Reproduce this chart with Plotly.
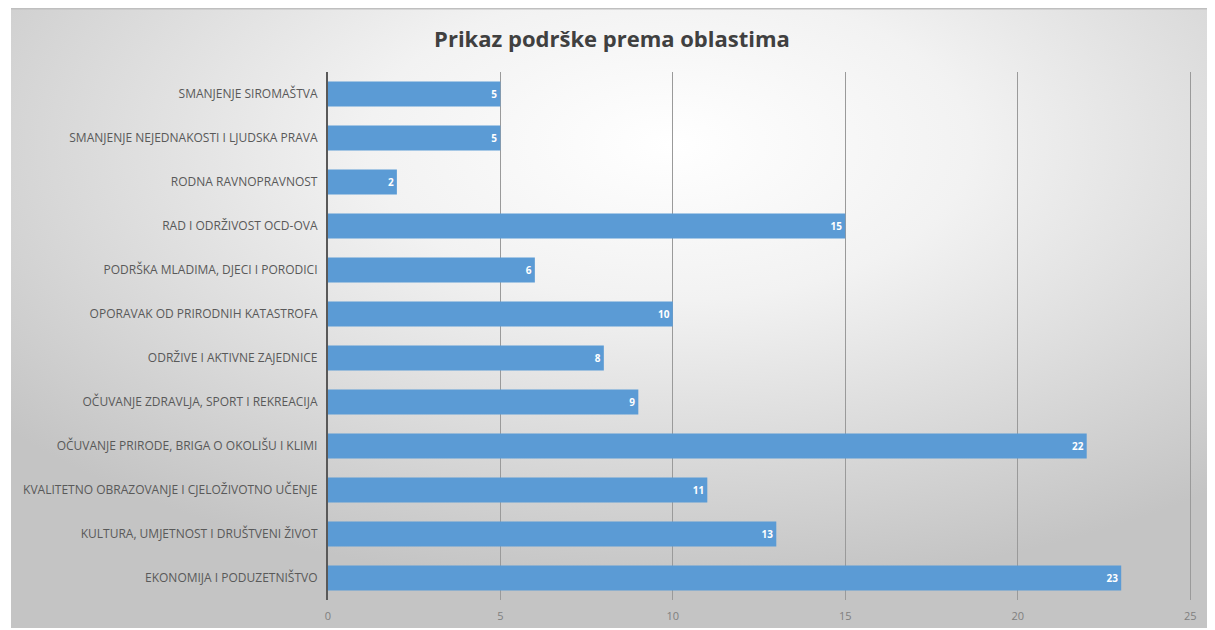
import base64
import plotly.graph_objects as go

categories = [
    "SMANJENJE SIROMAŠTVA",
    "SMANJENJE NEJEDNAKOSTI I LJUDSKA PRAVA",
    "RODNA RAVNOPRAVNOST",
    "RAD I ODRŽIVOST OCD-OVA",
    "PODRŠKA MLADIMA, DJECI I PORODICI",
    "OPORAVAK OD PRIRODNIH KATASTROFA",
    "ODRŽIVE I AKTIVNE ZAJEDNICE",
    "OČUVANJE ZDRAVLJA, SPORT I REKREACIJA",
    "OČUVANJE PRIRODE, BRIGA O OKOLIŠU I KLIMI",
    "KVALITETNO OBRAZOVANJE I CJELOŽIVOTNO UČENJE",
    "KULTURA, UMJETNOST I DRUŠTVENI ŽIVOT",
    "EKONOMIJA I PODUZETNIŠTVO",
]
values = [5, 5, 2, 15, 6, 10, 8, 9, 22, 11, 13, 23]
x_ticks = [0, 5, 10, 15, 20, 25]
title_text = "Prikaz podrške prema oblastima"

W, H = 1215, 630
OX, OY = 8, 8  # page offset of the figure in the screenshot

svg = (
    '<svg xmlns="http://www.w3.org/2000/svg" width="1205" height="620" preserveAspectRatio="none">'
    '<defs><radialGradient id="g" cx="0.55" cy="0.22" r="0.72">'
    '<stop offset="0" stop-color="#ffffff"/>'
    '<stop offset="0.35" stop-color="#f2f2f2"/>'
    '<stop offset="1" stop-color="#c4c4c4"/>'
    '</radialGradient></defs>'
    '<rect x="0" y="0" width="1205" height="620" fill="url(#g)"/>'
    '<rect x="0" y="0" width="1205" height="1.5" fill="#bfbfbf"/>'
    '</svg>'
)
bg_uri = "data:image/svg+xml;base64," + base64.b64encode(svg.encode("utf-8")).decode("ascii")


def px_x(p):
    return (p - OX) / W


def px_y(p):
    return 1 - (p - OY) / H


fig = go.Figure()
fig.add_trace(go.Bar(
    y=categories,
    x=values,
    orientation="h",
    marker=dict(color="#5b9bd5", line=dict(width=0)),
    text=[str(v) for v in values],
    textposition="inside",
    insidetextanchor="end",
    textfont=dict(family="Open Sans", size=10, color="#ffffff", weight="bold"),
    hoverinfo="x+y",
))

x_max = 25.05
fig.update_layout(
    width=W,
    height=H,
    margin=dict(l=0, r=0, t=0, b=0),
    paper_bgcolor="#ffffff",
    plot_bgcolor="rgba(0,0,0,0)",
    bargap=0.43,
    showlegend=False,
    images=[dict(
        source=bg_uri,
        xref="paper", yref="paper",
        x=0, y=1,
        sizex=1205 / W, sizey=620 / H,
        xanchor="left", yanchor="top",
        sizing="stretch",
        layer="below",
    )],
    title=dict(
        text="<b>" + title_text + "</b>",
        x=px_x(612), xanchor="center",
        y=px_y(39), yanchor="middle",
        font=dict(family="Open Sans", size=22, color="#404040"),
    ),
    xaxis=dict(
        domain=[px_x(327), px_x(327 + (1195 - 327) * x_max / 25)],
        range=[0, x_max],
        tickvals=x_ticks,
        showgrid=True,
        gridcolor="#9a9a9a",
        gridwidth=1,
        zeroline=False,
        showline=False,
        ticks="",
        ticklabelstandoff=8,
        tickfont=dict(family="Open Sans", size=11, color="#7f7f7f"),
        fixedrange=True,
    ),
    yaxis=dict(
        domain=[px_y(600), px_y(72)],
        autorange="reversed",
        showline=True,
        linecolor="#595959",
        linewidth=2,
        ticks="",
        ticklabelstandoff=6,
        tickfont=dict(family="Open Sans", size=12, color="#595959"),
        fixedrange=True,
    ),
)

fig.write_html("out.html")
